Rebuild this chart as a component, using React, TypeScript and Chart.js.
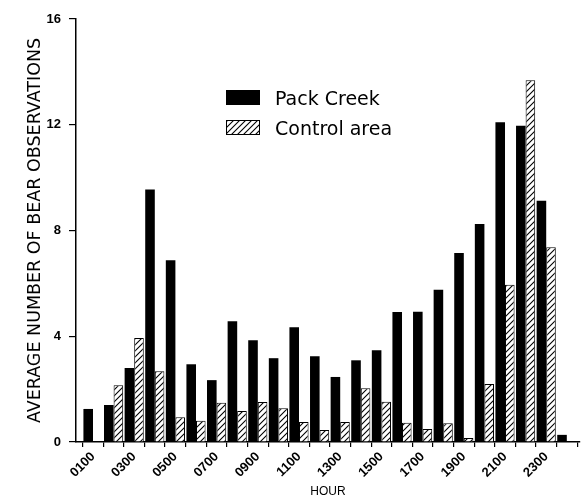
import React, { useEffect, useRef } from "react";
import { Chart, registerables } from "chart.js";

Chart.register(...registerables);

const hours = [
  "0100", "0200", "0300", "0400", "0500", "0600", "0700", "0800",
  "0900", "1000", "1100", "1200", "1300", "1400", "1500", "1600",
  "1700", "1800", "1900", "2000", "2100", "2200", "2300", "2400",
];
const packCreek = [
  1.25, 1.4, 2.8, 9.55, 6.87, 2.94, 2.34, 4.57, 3.85, 3.17, 4.34, 3.24,
  2.46, 3.09, 3.47, 4.92, 4.93, 5.76, 7.15, 8.25, 12.09, 11.96, 9.13, 0.27,
];
const controlArea = [
  0, 2.15, 3.93, 2.68, 0.94, 0.8, 1.48, 1.17, 1.51, 1.28, 0.76, 0.45,
  0.76, 2.03, 1.52, 0.73, 0.49, 0.71, 0.15, 2.19, 5.95, 13.68, 7.37, 0,
];
const yTicks = [0, 4, 8, 12, 16];
const seriesNames = ["Pack Creek", "Control area"];
const yTitle = "AVERAGE NUMBER OF BEAR OBSERVATIONS";
const xTitle = "HOUR";

function makeHatch(): CanvasPattern | string {
  const c = document.createElement("canvas");
  const s = 6;
  c.width = s;
  c.height = s;
  const g = c.getContext("2d");
  if (!g) return "#fff";
  g.fillStyle = "#fff";
  g.fillRect(0, 0, s, s);
  g.strokeStyle = "#000";
  g.lineWidth = 1.1;
  g.beginPath();
  g.moveTo(0, s);
  g.lineTo(s, 0);
  g.moveTo(-1, 1);
  g.lineTo(1, -1);
  g.moveTo(s - 1, s + 1);
  g.lineTo(s + 1, s - 1);
  g.stroke();
  const p = g.createPattern(c, "repeat");
  return p || "#fff";
}

export default function App() {
  const ref = useRef<HTMLCanvasElement>(null);

  useEffect(() => {
    const canvas = ref.current;
    if (!canvas) return;
    const hatch = makeHatch();

    const legendPlugin = {
      id: "insideLegend",
      afterDraw(chart: any) {
        const { ctx, chartArea } = chart;
        const bx = chartArea.left + 150;
        const by = chartArea.top + 71;
        const bw = 34;
        const bh = 15;
        const gap = 30;
        ctx.save();
        ctx.font = "19px 'DejaVu Sans'";
        ctx.textBaseline = "alphabetic";
        ctx.textAlign = "left";
        chart.data.datasets.forEach((ds: any, i: number) => {
          const y = by + i * gap;
          ctx.fillStyle = ds.backgroundColor;
          ctx.fillRect(bx, y, bw, bh);
          if (ds.borderWidth) {
            ctx.strokeStyle = "#000";
            ctx.lineWidth = 1;
            ctx.strokeRect(bx + 0.5, y + 0.5, bw - 1, bh - 1);
          }
          ctx.fillStyle = "#000";
          ctx.fillText(ds.label, bx + 49, y + bh);
        });
        ctx.restore();
      },
    };

    const chart = new Chart(canvas, {
      type: "bar",
      data: {
        datasets: [
          {
            label: seriesNames[0],
            data: packCreek.map((v, i) => ({ x: i + 1, y: v })),
            backgroundColor: "#000",
            borderWidth: 0,
          },
          {
            label: seriesNames[1],
            data: controlArea.map((v, i) => ({ x: i + 1, y: v })),
            backgroundColor: hatch as any,
            borderColor: "#000",
            borderWidth: 1,
          },
        ],
      },
      options: {
        responsive: false,
        animation: false,
        layout: { padding: { left: 0, right: 3, top: 19, bottom: 0 } },
        plugins: { legend: { display: false }, tooltip: { enabled: false } },
        datasets: { bar: { categoryPercentage: 0.93, barPercentage: 1 } },
        scales: {
          x: {
            type: "linear",
            min: 0.175,
            max: 24.64,
            offset: false,
            afterBuildTicks: (s: any) => {
              s.ticks = hours.map((_, i) => ({ value: i + 1 }));
            },
            afterFit: (s: any) => {
              s.height = 59;
            },
            ticks: {
              autoSkip: false,
              minRotation: 45,
              maxRotation: 45,
              padding: 2,
              color: "#000",
              font: { family: "'Liberation Sans'", size: 13, weight: "bold" },
              callback: (v: any) => {
                const i = Math.round(Number(v)) - 1;
                return i % 2 === 0 ? hours[i] : "";
              },
            },
            grid: {
              drawOnChartArea: false,
              drawTicks: true,
              tickLength: 5,
              color: "#000",
              lineWidth: 1.2,
            },
            border: { display: true, color: "#000", width: 1.5 },
            title: {
              display: true,
              text: xTitle,
              color: "#000",
              font: { family: "'Liberation Sans'", size: 12 },
              padding: { top: 0, bottom: 2 },
            },
          },
          y: {
            min: 0,
            max: 16,
            afterBuildTicks: (s: any) => {
              s.ticks = yTicks.map((v) => ({ value: v }));
            },
            afterFit: (s: any) => {
              s.width = 76;
            },
            ticks: {
              padding: 8,
              color: "#000",
              font: { family: "'Liberation Sans'", size: 13, weight: "bold" },
            },
            grid: {
              drawOnChartArea: false,
              drawTicks: true,
              tickLength: 7,
              color: "#000",
              lineWidth: 1.2,
            },
            border: { display: true, color: "#000", width: 1.5 },
            title: {
              display: true,
              text: yTitle,
              color: "#000",
              font: { family: "'DejaVu Sans'", size: 17.5 },
              padding: { top: 25, bottom: 0 },
            },
          },
        },
      },
      plugins: [legendPlugin],
    } as any);

    return () => chart.destroy();
  }, []);

  return (
    <div style={{ position: "absolute", left: 0, top: 0, width: 583, height: 501, background: "#fff" }}>
      <canvas ref={ref} width={583} height={501} style={{ display: "block" }} />
    </div>
  );
}
